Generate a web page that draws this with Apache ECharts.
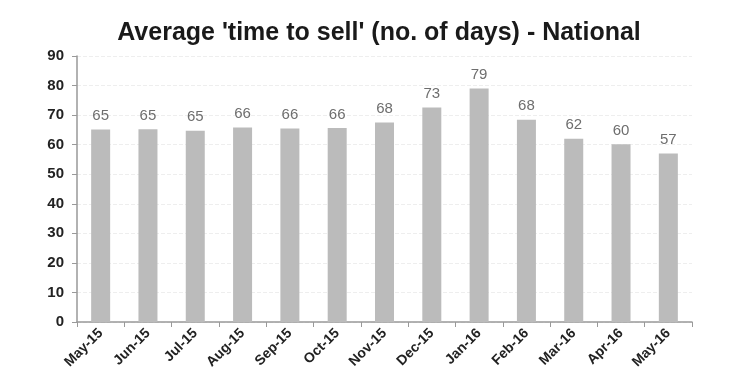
<!DOCTYPE html>
<html><head><meta charset="utf-8">
<script src="https://cdn.jsdelivr.net/npm/echarts@6/dist/echarts.min.js"></script>
<style>html,body{margin:0;padding:0;background:#fff}#c{width:730px;height:385px}</style>
</head><body><div id="c"></div>
<script>
const categories = ['May-15','Jun-15','Jul-15','Aug-15','Sep-15','Oct-15','Nov-15','Dec-15','Jan-16','Feb-16','Mar-16','Apr-16','May-16'];
const values = [65.1, 65.2, 64.7, 65.8, 65.5, 65.6, 67.5, 72.6, 79.0, 68.4, 62.0, 60.1, 57.0];
const yTicks = {min: 0, max: 90, interval: 10};
const titleText = "Average 'time to sell' (no. of days) - National";

const chart = echarts.init(document.getElementById('c'), null, {renderer: 'canvas'});
chart.setOption({
  animation: false,
  title: {
    text: titleText, left: 374, top: 16, textAlign: 'center',
    textStyle: {fontFamily: 'Liberation Sans', fontWeight: 'bold', fontSize: 25, color: '#1a1a1a'}
  },
  grid: {left: 77, right: 38, top: 56, bottom: 63, containLabel: false},
  xAxis: {
    type: 'category', data: categories,
    axisLine: {lineStyle: {color: '#999', width: 1.5}},
    axisTick: {show: true, alignWithLabel: false, length: 5, lineStyle: {color: '#999'}},
    axisLabel: {rotate: 45, interval: 0, fontFamily: 'Liberation Sans', fontSize: 14, fontWeight: 'bold', color: '#222', margin: 9}
  },
  yAxis: {
    type: 'value', min: yTicks.min, max: yTicks.max, interval: yTicks.interval,
    axisLine: {show: true, lineStyle: {color: '#999', width: 1.5}},
    axisTick: {show: true, length: 5, lineStyle: {color: '#999'}},
    axisLabel: {fontFamily: 'Liberation Sans', fontSize: 15, fontWeight: 'bold', color: '#222', margin: 13},
    splitLine: {lineStyle: {color: '#eee', type: 'dashed'}}
  },
  series: [{
    type: 'bar', data: values, barWidth: 19,
    itemStyle: {color: '#bbbbbb'},
    label: {show: true, position: 'top', distance: 6, fontFamily: 'Liberation Sans', fontSize: 15, color: '#6e6e6e',
      formatter: p => Math.round(p.value)}
  }]
});
</script></body></html>
